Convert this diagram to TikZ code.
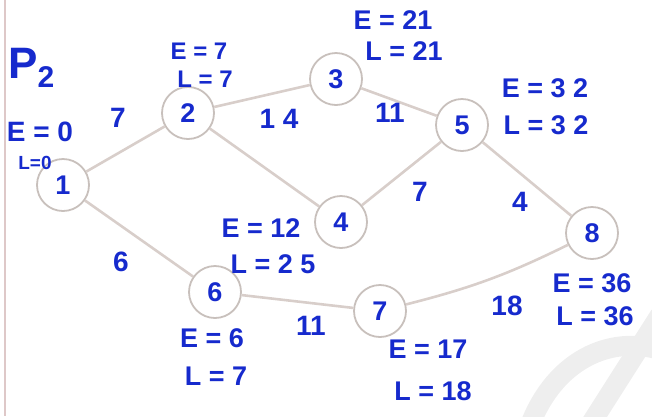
\documentclass[tikz,border=0pt]{standalone}
\usepackage{fontspec}
\setmainfont{Liberation Sans}
\definecolor{ink}{RGB}{22,42,205}
\definecolor{edgec}{RGB}{216,206,202}
\definecolor{ringc}{RGB}{200,192,188}
\definecolor{wmark}{RGB}{238,238,238}
\definecolor{paperedge}{RGB}{222,200,200}
\tikzset{
  ev/.style={circle, draw=ringc, line width=1.8pt, minimum size=52pt, inner sep=0pt,
             text=ink, font=\fontsize{27}{27}\selectfont\bfseries},
  act/.style={draw=edgec, line width=2.6pt},
  lab/.style={text=ink, font=\fontsize{27}{27}\selectfont\bfseries, inner sep=0pt},
  wt/.style={text=ink, font=\fontsize{28}{28}\selectfont\bfseries, inner sep=0pt},
}
\begin{document}
\begin{tikzpicture}[x=1pt,y=-1pt]
\useasboundingbox (0,0) rectangle (652,416);
% watermark and paper edge
\draw[wmark, line width=20pt] (530,425) .. controls (555,360) and (610,335) .. (660,350);
\draw[wmark, line width=20pt] (660,315) -- (590,425);
\draw[paperedge, line width=1.6pt] (5,0) -- (5,416);
% events
\node[ev] (n1) at (63,185) {1};
\node[ev] (n2) at (188,113) {2};
\node[ev] (n3) at (336,79) {3};
\node[ev] (n4) at (341,222) {4};
\node[ev] (n5) at (462,125) {5};
\node[ev] (n6) at (215,292) {6};
\node[ev] (n7) at (380,311) {7};
\node[ev] (n8) at (592,233) {8};
% activities
\draw[act] (n1) -- (n2);
\draw[act] (n1) -- (n6);
\draw[act] (n2) -- (n3);
\draw[act] (n2) -- (n4);
\draw[act] (n3) -- (n5);
\draw[act] (n4) -- (n5);
\draw[act] (n5) -- (n8);
\draw[act] (n6) -- (n7);
\draw[act] (n7) to[bend right=6] (n8);
% durations
\node[wt] (w12) at (118,118) {7};
\node[wt] (w23) at (279,119) {1 4};
\node[wt] (w35) at (390,113) {11};
\node[wt] (w45) at (420,192) {7};
\node[wt] (w58) at (520,202) {4};
\node[wt] (w16) at (121,262) {6};
\node[wt] (w67) at (311,326) {11};
\node[wt] (w78) at (507,306) {18};
% title
\node[text=ink, inner sep=0pt, anchor=west, font=\bfseries] (title) at (8,68) {\fontsize{44}{44}\selectfont P\raisebox{-9pt}{\fontsize{30}{30}\selectfont 2}};
% E / L times
\node[lab, font=\fontsize{28}{28}\selectfont\bfseries] (e1) at (40,132) {E = 0};
\node[lab, font=\fontsize{19}{19}\selectfont\bfseries] (l1) at (35,163) {L=0};
\node[lab, font=\fontsize{24}{24}\selectfont\bfseries] (e2) at (199,51) {E = 7};
\node[lab, font=\fontsize{24}{24}\selectfont\bfseries] (l2) at (205,79) {L = 7};
\node[lab] (e3) at (393,20) {E = 21};
\node[lab] (l3) at (404,51) {L = 21};
\node[lab] (e5) at (545,88) {E = 3 2};
\node[lab] (l5) at (546,125) {L = 3 2};
\node[lab] (e4) at (261,228) {E = 12};
\node[lab] (l4) at (273,264) {L = 2 5};
\node[lab] (e6) at (212,338) {E = 6};
\node[lab] (l6) at (216,376) {L = 7};
\node[lab] (e7) at (428,349) {E = 17};
\node[lab] (l7) at (433,391) {L = 18};
\node[lab] (e8) at (592,283) {E = 36};
\node[lab] (l8) at (595,316) {L = 36};
\end{tikzpicture}
\end{document}
